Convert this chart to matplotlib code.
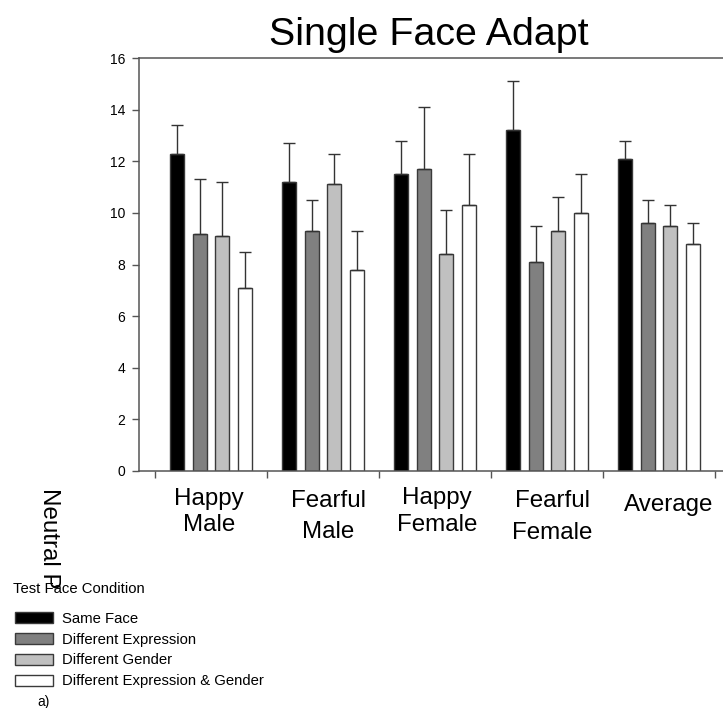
import matplotlib
matplotlib.use("Agg")
import matplotlib.pyplot as plt
from matplotlib.patches import Rectangle
from matplotlib.transforms import blended_transform_factory
import numpy as np

plt.rcParams['font.family'] = ['Liberation Sans', 'DejaVu Sans']

# data
groups = [["Happy", "Male"], ["Fearful", "Male"], ["Happy", "Female"],
          ["Fearful", "Female"], ["Average"]]
series = ["Same Face", "Different Expression", "Different Gender",
          "Different Expression & Gender"]
same_face = [12.3, 11.2, 11.5, 13.2, 12.1]
diff_expr = [9.2, 9.3, 11.7, 8.1, 9.6]
diff_gender = [9.1, 11.1, 8.4, 9.3, 9.5]
diff_both = [7.1, 7.8, 10.3, 10.0, 8.8]
# top of the error bars
same_face_top = [13.4, 12.7, 12.8, 15.1, 12.8]
diff_expr_top = [11.3, 10.5, 14.1, 9.5, 10.5]
diff_gender_top = [11.2, 12.3, 10.1, 10.6, 10.3]
diff_both_top = [8.5, 9.3, 12.3, 11.5, 9.6]
y_ticks = [0, 2, 4, 6, 8, 10, 12, 14, 16]

colors = ["#000000", "#808080", "#c0c0c0", "#ffffff"]
edge = "#3a3a3a"

W, H = 723, 708
fig = plt.figure(figsize=(W / 100, H / 100), dpi=100)


def fx(px):
    return px / W


def fy(py):
    return 1 - py / H


ax = fig.add_axes([fx(139), fy(471), fx(723 - 139), 413 / H])

means = [same_face, diff_expr, diff_gender, diff_both]
tops = [same_face_top, diff_expr_top, diff_gender_top, diff_both_top]
x = np.arange(1, len(groups) + 1)
offsets = [-0.3, -0.1, 0.1, 0.3]
for m, t, c, off in zip(means, tops, colors, offsets):
    m = np.array(m)
    t = np.array(t)
    ax.bar(x + off, m, width=0.125, color=c, edgecolor=edge, linewidth=1, zorder=2)
    ax.errorbar(x + off, m, yerr=[np.zeros_like(m), t - m], fmt='none',
                ecolor="#333333", elinewidth=1, capsize=4.5, capthick=1, zorder=3)

ax.set_xlim(0.357, 5.571)
ax.set_ylim(0, 16)
ax.set_yticks(y_ticks)
ax.set_xticks(np.arange(0.5, 6.0, 1.0))
ax.set_xticklabels([])
ax.tick_params(axis='both', direction='out', length=5, width=1, color="#555555",
               labelsize=10, pad=5)
for s in ['left', 'bottom', 'top']:
    ax.spines[s].set_color("#555555")
    ax.spines[s].set_linewidth(1.1)
ax.spines['right'].set_visible(False)

# title
fig.text(fx(429), fy(44.6), "Single Face Adapt", ha='center', va='baseline',
         fontsize=28.4)

# category labels, placed line by line as in the original
label_x = [0.98, 2.045, 3.02, 4.05, 5.09]
label_base = [[504.7, 531.3], [507.3, 538.0], [504.0, 530.7], [507.3, 539.0], [511.3]]
tr = blended_transform_factory(ax.transData, fig.transFigure)
for lines, lx, bases in zip(groups, label_x, label_base):
    for line, b in zip(lines, bases):
        ax.text(lx, fy(b), line, transform=tr, ha='center', va='baseline',
                fontsize=17.4, clip_on=False)

# rotated axis label fragment
fig.text(fx(48.7), fy(488), "Neutral P", rotation=-90, ha='center', va='top',
         fontsize=17.4)
# small fragment at the bottom edge
fig.text(fx(44), fy(706), "a)", ha='center', va='baseline', fontsize=10)

# legend
fig.text(fx(12.7), fy(592.7), "Test Face Condition", ha='left', va='baseline',
         fontsize=10.7)
for i, (name, c) in enumerate(zip(series, colors)):
    top = 612.3 + i * 20.9
    fig.patches.append(Rectangle((fx(14.7), fy(top + 10.5)), fx(38), 10.5 / H,
                                 facecolor=c, edgecolor=edge, linewidth=1,
                                 transform=fig.transFigure))
    fig.text(fx(61.7), fy(622.7 + i * 20.9), name, ha='left', va='baseline',
             fontsize=10.7)

fig.savefig("out.png", dpi=100)
